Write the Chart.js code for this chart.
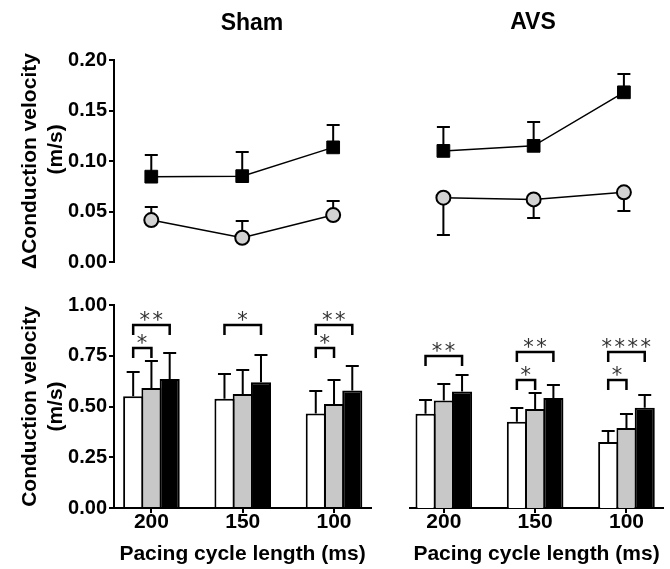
<!DOCTYPE html>
<html>
<head>
<meta charset="utf-8">
<title>Conduction velocity</title>
<script src="https://cdn.jsdelivr.net/npm/chart.js@4.4.1/dist/chart.umd.min.js"></script>
<style>
  body { margin: 0; background: #fff; }
  #wrap { position: relative; width: 670px; height: 569px; }
  #wrap canvas { position: absolute; }
</style>
</head>
<body>
<div id="wrap">
  <canvas id="shamTop" width="380" height="290" style="left:0;top:0"></canvas>
  <canvas id="avsTop" width="280" height="290" style="left:390px;top:0"></canvas>
  <canvas id="shamBars" width="380" height="279" style="left:0;top:290px"></canvas>
  <canvas id="avsBars" width="280" height="279" style="left:390px;top:290px"></canvas>
</div>
<script>
/* pacing cycle length (ms) */
var cycleLengths = ['200', '150', '100'];

/* delta CV (m/s): black squares and grey circles, mean + SEM */
var shamDeltaSquare = [0.0845, 0.085, 0.1135];
var shamDeltaSquareErr = [0.021, 0.024, 0.022];
var shamDeltaCircle = [0.0415, 0.024, 0.0465];
var shamDeltaCircleErr = [0.013, 0.017, 0.0135];
var avsDeltaSquare = [0.110, 0.115, 0.168];
var avsDeltaSquareErr = [0.024, 0.024, 0.018];
var avsDeltaCircle = [0.0637, 0.062, 0.069];
var avsDeltaCircleErr = [0.037, 0.018, 0.0185];

/* CV (m/s): white, grey, black bars, mean + SEM */
var shamCvWhite = [0.55, 0.538, 0.466];
var shamCvWhiteErr = [0.12, 0.124, 0.112];
var shamCvGrey = [0.591, 0.561, 0.512];
var shamCvGreyErr = [0.133, 0.12, 0.12];
var shamCvBlack = [0.635, 0.619, 0.579];
var shamCvBlackErr = [0.128, 0.136, 0.121];
var avsCvWhite = [0.464, 0.425, 0.325];
var avsCvWhiteErr = [0.066, 0.066, 0.052];
var avsCvGrey = [0.529, 0.488, 0.394];
var avsCvGreyErr = [0.083, 0.077, 0.067];
var avsCvBlack = [0.574, 0.542, 0.494];
var avsCvBlackErr = [0.081, 0.064, 0.063];

/* tick labels */
var deltaTicks = [0, 0.05, 0.10, 0.15, 0.20];
var cvTicks = [0, 0.25, 0.50, 0.75, 1.00];

/* significance brackets: group, bar from, bar to, height (m/s), stars */
var shamStars = [
  { group: 0, from: 0, to: 2, level: 0.90, text: '**' },
  { group: 0, from: 0, to: 1, level: 0.79, text: '*' },
  { group: 1, from: 0, to: 2, level: 0.90, text: '*' },
  { group: 2, from: 0, to: 2, level: 0.90, text: '**' },
  { group: 2, from: 0, to: 1, level: 0.79, text: '*' }
];
var avsStars = [
  { group: 0, from: 0, to: 2, level: 0.75, text: '**' },
  { group: 1, from: 0, to: 2, level: 0.77, text: '**' },
  { group: 1, from: 0, to: 1, level: 0.63, text: '*' },
  { group: 2, from: 0, to: 2, level: 0.77, text: '****' },
  { group: 2, from: 0, to: 1, level: 0.63, text: '*' }
];

Chart.defaults.font.family = "Arial, 'Liberation Sans', Helvetica, sans-serif";
Chart.defaults.font.weight = 'bold';
Chart.defaults.color = '#000';

function points(values) {
  return values.map(function(v, i) { return { x: i, y: v }; });
}

/* error bars, brackets and the panel heading */
var extras = {
  id: 'extras',
  beforeDatasetsDraw: function(chart, args, opts) {
    var ctx = chart.ctx, y = chart.scales.y;
    ctx.save();
    ctx.strokeStyle = '#000';
    ctx.lineWidth = 2;
    (opts.errors || []).forEach(function(e) {
      var meta = chart.getDatasetMeta(e.dataset);
      meta.data.forEach(function(el, i) {
        var v = meta.controller.getParsed(i).y;
        var end = Math.round(y.getPixelForValue(v + e.dir * e.err[i]));
        ctx.beginPath();
        ctx.moveTo(el.x, el.y);
        ctx.lineTo(el.x, end);
        ctx.moveTo(el.x - 6.5, end);
        ctx.lineTo(el.x + 6.5, end);
        ctx.stroke();
      });
    });
    ctx.restore();
  },
  afterDatasetsDraw: function(chart, args, opts) {
    var ctx = chart.ctx, y = chart.scales.y;
    ctx.save();
    (opts.brackets || []).forEach(function(b) {
      var xa = chart.getDatasetMeta(b.from).data[b.group].x;
      var xb = chart.getDatasetMeta(b.to).data[b.group].x;
      var yy = Math.round(y.getPixelForValue(b.level));
      ctx.strokeStyle = '#000';
      ctx.lineWidth = 2.5;
      ctx.lineJoin = 'miter';
      ctx.beginPath();
      ctx.moveTo(xa, yy + 10);
      ctx.lineTo(xa, yy);
      ctx.lineTo(xb, yy);
      ctx.lineTo(xb, yy + 10);
      ctx.stroke();
      ctx.fillStyle = '#333';
      ctx.font = "21px 'DejaVu Sans'";
      ctx.letterSpacing = '2.5px';
      ctx.textAlign = 'center';
      ctx.textBaseline = 'alphabetic';
      ctx.fillText(b.text, (xa + xb) / 2 + 1, yy + 2);
    });
    if (opts.heading) {
      ctx.letterSpacing = '0px';
      ctx.fillStyle = '#000';
      ctx.font = "bold 23px Arial, 'Liberation Sans', sans-serif";
      ctx.textAlign = 'center';
      ctx.textBaseline = 'middle';
      ctx.fillText(opts.heading.text, opts.heading.x, opts.heading.y);
    }
    ctx.restore();
  }
};

function yScale(ticks, title, show) {
  return {
    display: show,
    min: ticks[0],
    max: ticks[ticks.length - 1],
    afterBuildTicks: function(s) { s.ticks = ticks.map(function(v) { return { value: v }; }); },
    afterFit: function(s) { if (show) s.width = 114; },
    border: { display: true, color: '#000', width: 2 },
    grid: { drawOnChartArea: false, drawTicks: true, tickLength: 5, tickColor: '#000', lineWidth: 2 },
    ticks: { padding: 2, font: { size: 20, weight: 'bold' }, callback: function(v) { return v.toFixed(2); } },
    title: { display: true, text: title, padding: { top: 18, bottom: 0 }, font: { size: 21, weight: 'bold' } }
  };
}

function xHidden(min, max) {
  return { type: 'linear', display: false, min: min, max: max };
}

function xCycle(min, max) {
  return {
    type: 'linear',
    min: min,
    max: max,
    offset: false,
    afterBuildTicks: function(s) { s.ticks = cycleLengths.map(function(c, i) { return { value: i }; }); },
    afterFit: function(s) { s.height = 61; },
    border: { display: true, color: '#000', width: 2 },
    grid: { offset: false, drawOnChartArea: false, drawTicks: true, tickLength: 5, tickColor: '#000', lineWidth: 2 },
    ticks: { padding: -3, maxRotation: 0, font: { size: 21, weight: 'bold' }, callback: function(v) { return cycleLengths[v]; } },
    title: { display: true, text: 'Pacing cycle length (ms)', padding: { top: 0, bottom: 2 }, font: { size: 21, weight: 'bold' } }
  };
}

function deltaChart(id, squares, squareErr, circles, circleErr, circleDir, xmin, xmax, showY, pad, heading) {
  return new Chart(document.getElementById(id), {
    type: 'line',
    data: {
      datasets: [{
        label: 'squares',
        data: points(squares),
        borderColor: '#000',
        borderWidth: 1.5,
        pointStyle: 'rect',
        pointRadius: 9,
        pointBorderWidth: 1,
        pointBackgroundColor: '#000',
        pointBorderColor: '#000'
      }, {
        label: 'circles',
        data: points(circles),
        borderColor: '#000',
        borderWidth: 1.5,
        pointStyle: 'circle',
        pointRadius: 7,
        pointBorderWidth: 2,
        pointBackgroundColor: '#d2d2d2',
        pointBorderColor: '#000'
      }]
    },
    options: {
      responsive: false,
      animation: false,
      layout: { padding: pad },
      scales: {
        x: xHidden(xmin, xmax),
        // leading spaces lift the unit line a bit above the axis middle
        y: yScale(deltaTicks, ['\u0394Conduction velocity', '\u00a0\u00a0\u00a0\u00a0(m/s)'], showY)
      },
      plugins: {
        legend: { display: false },
        tooltip: { enabled: false },
        extras: {
          heading: heading,
          errors: [
            { dataset: 0, err: squareErr, dir: 1 },
            { dataset: 1, err: circleErr, dir: circleDir }
          ]
        }
      }
    },
    plugins: [extras]
  });
}

function cvChart(id, white, whiteErr, grey, greyErr, black, blackErr, stars, xmin, xmax, showY, pad) {
  var bar = { borderColor: '#000', borderWidth: 2, barPercentage: 1.1, categoryPercentage: 0.6 };
  return new Chart(document.getElementById(id), {
    type: 'bar',
    data: {
      datasets: [
        Object.assign({ label: 'white', data: points(white), backgroundColor: '#fff' }, bar),
        Object.assign({ label: 'grey', data: points(grey), backgroundColor: '#c8c8c8' }, bar),
        Object.assign({ label: 'black', data: points(black), backgroundColor: '#000' }, bar)
      ]
    },
    options: {
      responsive: false,
      animation: false,
      layout: { padding: pad },
      scales: {
        x: xCycle(xmin, xmax),
        y: yScale(cvTicks, ['Conduction velocity', '(m/s)'], showY)
      },
      plugins: {
        legend: { display: false },
        tooltip: { enabled: false },
        extras: {
          brackets: stars,
          errors: [
            { dataset: 0, err: whiteErr, dir: 1 },
            { dataset: 1, err: greyErr, dir: 1 },
            { dataset: 2, err: blackErr, dir: 1 }
          ]
        }
      }
    },
    plugins: [extras]
  });
}

deltaChart('shamTop', shamDeltaSquare, shamDeltaSquareErr, shamDeltaCircle, shamDeltaCircleErr, 1,
  -0.41, 2.405, true, { top: 60, bottom: 28, left: 0, right: 9 }, { text: 'Sham', x: 252, y: 24 });
deltaChart('avsTop', avsDeltaSquare, avsDeltaSquareErr, avsDeltaCircle, avsDeltaCircleErr, -1,
  -0.37, 2.40, false, { top: 60, bottom: 28, left: 20, right: 7 }, { text: 'AVS', x: 143, y: 23 });

cvChart('shamBars', shamCvWhite, shamCvWhiteErr, shamCvGrey, shamCvGreyErr, shamCvBlack, shamCvBlackErr, shamStars,
  -0.41, 2.405, true, { top: 15, bottom: 0, left: 0, right: 9 });
cvChart('avsBars', avsCvWhite, avsCvWhiteErr, avsCvGrey, avsCvGreyErr, avsCvBlack, avsCvBlackErr, avsStars,
  -0.37, 2.40, false, { top: 15, bottom: 0, left: 20, right: 7 });
</script>
</body>
</html>
